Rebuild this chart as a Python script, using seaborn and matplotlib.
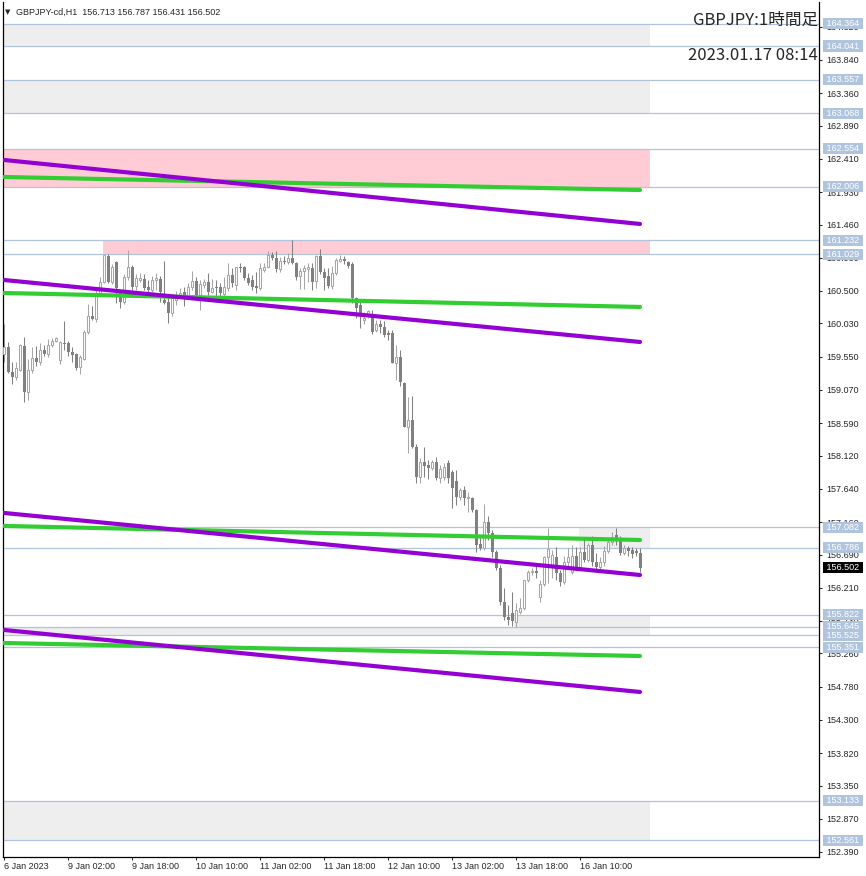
import numpy as np
import pandas as pd
import matplotlib.pyplot as plt
import matplotlib.transforms as mtransforms
import seaborn as sns

# GBPJPY hourly candles, 6 Jan 2023 10:00 .. 17 Jan 2023 01:00 (server time)
open_ = [
    159.59, 159.69, 159.33, 159.26, 159.36, 159.71, 159.04, 159.36, 159.53, 159.47,
    159.65, 159.59, 159.72, 159.78, 159.50, 159.75, 159.75, 159.62, 159.59, 159.40,
    159.52, 159.91, 160.14, 160.10, 160.44, 160.63, 161.01, 160.63, 160.92, 160.49,
    160.34, 160.70, 160.85, 160.57, 160.66, 160.67, 160.56, 160.51, 160.66, 160.67,
    160.37, 160.34, 160.18, 160.37, 160.43, 160.49, 160.41, 160.56, 160.65, 160.44,
    160.59, 160.63, 160.49, 160.56, 160.56, 160.46, 160.54, 160.73, 160.59, 160.85,
    160.85, 160.69, 160.66, 160.57, 160.54, 160.80, 160.85, 161.02, 160.98, 160.82,
    160.93, 160.92, 160.98, 160.91, 160.72, 160.79, 160.82, 160.83, 160.65, 161.01,
    160.78, 160.72, 160.57, 160.76, 160.93, 160.96, 160.92, 160.89, 160.40, 160.30,
    160.08, 160.15, 160.15, 159.94, 160.02, 159.98, 159.89, 159.89, 159.46, 159.55,
    159.17, 158.53, 158.64, 158.24, 157.81, 158.03, 157.98, 157.94, 158.03, 157.80,
    157.81, 158.01, 157.88, 157.75, 157.52, 157.62, 157.51, 157.51, 157.33, 156.84,
    156.78, 157.16, 157.00, 156.73, 156.50, 156.00, 155.79, 155.85, 155.72, 155.86,
    155.92, 156.32, 156.44, 156.45, 156.08, 156.26, 156.65, 156.54, 156.65, 156.42,
    156.29, 156.58, 156.44, 156.67, 156.51, 156.73, 156.61, 156.83, 156.58, 156.51,
    156.58, 156.74, 156.87, 156.97, 156.90, 156.71, 156.78, 156.76, 156.74, 156.713,
]
high = [
    160.02, 159.76, 159.47, 159.47, 159.73, 159.84, 159.52, 159.69, 159.71, 159.75,
    159.72, 159.81, 159.82, 159.84, 159.78, 160.07, 159.78, 159.69, 159.60, 159.58,
    159.94, 160.31, 160.28, 160.56, 160.70, 161.02, 161.03, 160.89, 160.93, 160.51,
    160.75, 161.09, 160.88, 160.75, 160.76, 160.75, 160.66, 160.72, 160.76, 160.72,
    160.93, 160.41, 160.46, 160.50, 160.54, 160.56, 160.62, 160.79, 160.70, 160.66,
    160.67, 160.76, 160.67, 160.66, 160.62, 160.70, 160.91, 160.83, 160.85, 160.91,
    160.86, 160.76, 160.73, 160.78, 160.91, 160.91, 161.08, 161.06, 161.08, 160.99,
    161.01, 161.05, 161.23, 160.92, 160.83, 160.88, 160.91, 160.91, 161.02, 161.11,
    160.83, 160.83, 160.86, 160.98, 161.02, 161.01, 160.93, 160.92, 160.41, 160.37,
    160.20, 160.23, 160.23, 160.08, 160.08, 160.07, 159.94, 159.94, 159.72, 159.65,
    159.18, 158.97, 158.98, 158.29, 158.09, 158.24, 158.06, 158.06, 158.10, 157.98,
    158.01, 158.06, 157.91, 157.91, 157.65, 157.68, 157.59, 157.52, 157.35, 156.96,
    157.42, 157.25, 157.05, 156.76, 156.54, 156.21, 155.96, 156.15, 155.99, 156.06,
    156.32, 156.47, 156.50, 156.54, 156.32, 156.67, 157.07, 156.76, 156.80, 156.47,
    156.67, 156.79, 156.83, 156.80, 156.80, 156.93, 156.86, 156.96, 156.71, 156.65,
    156.81, 156.90, 157.02, 157.08, 156.96, 156.83, 156.81, 156.80, 156.78, 156.787,
]
low = [
    159.47, 159.32, 159.16, 159.21, 159.34, 158.90, 158.92, 159.32, 159.42, 159.43,
    159.56, 159.55, 159.69, 159.76, 159.45, 159.65, 159.56, 159.47, 159.36, 159.30,
    159.50, 159.88, 160.08, 160.05, 160.43, 160.62, 160.62, 160.60, 160.33, 160.25,
    160.31, 160.66, 160.51, 160.51, 160.63, 160.51, 160.49, 160.49, 160.51, 160.34,
    160.31, 160.04, 160.14, 160.30, 160.40, 160.28, 160.38, 160.51, 160.37, 160.23,
    160.54, 160.44, 160.47, 160.37, 160.41, 160.43, 160.50, 160.56, 160.51, 160.78,
    160.66, 160.59, 160.51, 160.47, 160.51, 160.78, 160.83, 160.95, 160.78, 160.78,
    160.89, 160.89, 160.89, 160.66, 160.53, 160.53, 160.63, 160.51, 160.54, 160.75,
    160.51, 160.54, 160.53, 160.73, 160.92, 160.89, 160.83, 160.33, 160.11, 159.97,
    160.02, 160.11, 159.88, 159.91, 159.89, 159.84, 159.79, 159.46, 159.21, 159.13,
    158.53, 158.16, 158.23, 157.72, 157.72, 157.81, 157.78, 157.91, 157.77, 157.72,
    157.77, 157.72, 157.36, 157.41, 157.48, 157.41, 157.31, 157.31, 156.73, 156.76,
    156.76, 156.90, 156.65, 156.47, 155.96, 155.74, 155.67, 155.66, 155.645, 155.83,
    155.89, 156.29, 156.40, 156.35, 156.00, 156.24, 156.28, 156.35, 156.32, 156.24,
    156.26, 156.52, 156.41, 156.47, 156.47, 156.58, 156.58, 156.52, 156.47, 156.47,
    156.52, 156.71, 156.83, 156.83, 156.68, 156.68, 156.67, 156.64, 156.67, 156.431,
]
close = [
    159.69, 159.33, 159.26, 159.39, 159.72, 159.04, 159.36, 159.53, 159.47, 159.65,
    159.59, 159.72, 159.78, 159.82, 159.76, 159.73, 159.62, 159.58, 159.39, 159.55,
    159.91, 160.14, 160.10, 160.44, 160.63, 161.02, 160.63, 160.85, 160.54, 160.34,
    160.70, 160.85, 160.56, 160.69, 160.69, 160.54, 160.51, 160.66, 160.69, 160.49,
    160.33, 160.18, 160.40, 160.44, 160.47, 160.41, 160.56, 160.65, 160.44, 160.60,
    160.63, 160.49, 160.54, 160.54, 160.47, 160.56, 160.73, 160.62, 160.85, 160.83,
    160.69, 160.62, 160.56, 160.54, 160.83, 160.85, 161.02, 160.98, 160.82, 160.93,
    160.92, 160.98, 160.91, 160.70, 160.79, 160.83, 160.85, 160.63, 161.01, 160.78,
    160.69, 160.57, 160.76, 160.95, 160.96, 160.93, 160.86, 160.40, 160.25, 160.15,
    160.11, 160.21, 159.91, 160.02, 159.98, 159.86, 159.86, 159.46, 159.55, 159.18,
    158.53, 158.64, 158.24, 157.81, 158.03, 157.97, 157.94, 158.03, 157.80, 157.93,
    157.96, 157.80, 157.65, 157.52, 157.62, 157.51, 157.52, 157.33, 156.83, 156.78,
    157.16, 157.00, 156.73, 156.50, 156.00, 155.79, 155.74, 155.73, 155.89, 155.92,
    156.32, 156.44, 156.45, 156.42, 156.26, 156.65, 156.77, 156.68, 156.42, 156.29,
    156.58, 156.65, 156.67, 156.51, 156.73, 156.61, 156.83, 156.58, 156.51, 156.58,
    156.74, 156.87, 156.94, 156.90, 156.71, 156.78, 156.74, 156.70, 156.71, 156.502,
]

time_pos = [0, 16, 32, 48, 64, 80, 96, 112, 128, 144]
time_labels = ['6 Jan 2023', '9 Jan 02:00', '9 Jan 18:00', '10 Jan 10:00', '11 Jan 02:00',
               '11 Jan 18:00', '12 Jan 10:00', '13 Jan 02:00', '13 Jan 18:00', '16 Jan 10:00']

price_ticks = [164.320, 163.840, 163.360, 162.890, 162.410, 161.930, 161.460, 160.980,
               160.500, 160.030, 159.550, 159.070, 158.590, 158.120, 157.640, 157.160,
               156.690, 156.210, 155.730, 155.260, 154.780, 154.300, 153.820, 153.350,
               152.870, 152.390]

# horizontal levels
levels = [164.364, 164.041, 163.557, 163.068, 162.554, 162.006, 161.232, 161.029,
          157.082, 156.786, 155.822, 155.645, 155.525, 155.351, 153.133, 152.561]

# zones (top, bottom, first candle, kind)
zone_top = [164.364, 163.557, 162.554, 161.232, 157.082, 155.822, 155.645, 153.133]
zone_bottom = [164.041, 163.068, 162.006, 161.029, 156.786, 155.645, 155.525, 152.561]
zone_start = [-1, -1, -1, 24.75, 143.75, 127.5, -1, -1]
zone_kind = ['gray', 'gray', 'pink', 'pink', 'gray', 'gray', 'gray', 'gray']

# channel lines: price at first and last candle
purple_start = [162.394, 160.659, 157.291, 155.599]
purple_end = [161.469, 159.763, 156.394, 154.703]
green_start = [162.148, 160.471, 157.103, 155.411]
green_end = [161.960, 160.269, 156.900, 155.223]

header = 'GBPJPY-cd,H1  156.713 156.787 156.431 156.502'

df = pd.DataFrame({'open': open_, 'high': high, 'low': low, 'close': close})
df['idx'] = np.arange(len(df))
df['up'] = df['close'] >= df['open']
n = len(df)

sns.set_style('white')
plt.rcParams['font.family'] = ['Liberation Sans', 'Noto Sans CJK JP', 'DejaVu Sans']

W, H = 866, 876
fig = plt.figure(figsize=(W / 100, H / 100), dpi=100)
ax = fig.add_axes([3 / W, 19 / H, 816 / W, 855 / H])

zone_color = {'gray': '#EEEEEE', 'pink': '#FFCCD5'}
zone_end = n + 1.5
for top, bot, start, kind in zip(zone_top, zone_bottom, zone_start, zone_kind):
    ax.fill_between([start, zone_end], bot, top, color=zone_color[kind], lw=0, zorder=0)

for lv in levels:
    ax.axhline(lv, color='#B0C4DE', lw=0.9, zorder=1)

# candles
colors = np.where(df['up'], '#A6A6A6', '#808080')
ax.vlines(df['idx'], df['low'], df['high'], colors=colors, lw=0.75, zorder=2)
up = df[df['up']]
dn = df[~df['up']]
ax.bar(up['idx'], up['close'] - up['open'], bottom=up['open'], width=0.5,
       facecolor='white', edgecolor='#A6A6A6', lw=0.75, zorder=3)
ax.bar(dn['idx'], dn['open'] - dn['close'], bottom=dn['close'], width=0.75,
       color='#808080', lw=0, zorder=3)

# channels
for k in range(len(purple_start)):
    sns.lineplot(x=[0, n - 1], y=[green_start[k], green_end[k]], color='#32CD32',
                 lw=3, ax=ax, zorder=4)
    sns.lineplot(x=[0, n - 1], y=[purple_start[k], purple_end[k]], color='#9400D3',
                 lw=3, ax=ax, zorder=4)

ax.set_xlim(-0.25, 203.75)
ax.set_ylim(152.317, 164.678)

ax.yaxis.tick_right()
ax.set_yticks(price_ticks)
ax.set_yticklabels([f'{t:.3f}' for t in price_ticks])
ax.set_xticks(time_pos)
ax.set_xticklabels(time_labels, ha='left')
ax.tick_params(axis='y', direction='out', length=2.2, width=0.75, pad=3,
               labelsize=6.5, right=True, left=False)
ax.tick_params(axis='x', direction='out', length=2.2, width=0.75, pad=1.5,
               labelsize=6.5, bottom=True)
ax.set_xlabel('')
ax.set_ylabel('')
for side in ['left', 'right', 'bottom']:
    ax.spines[side].set_color('black')
    ax.spines[side].set_linewidth(0.9)
ax.spines['top'].set_visible(False)

trans = mtransforms.blended_transform_factory(ax.transAxes, ax.transData)
lab_x = (843 - 3) / 816
for lv in levels:
    ax.text(lab_x, lv, f' {lv:.3f} ', transform=trans, ha='center', va='center',
            color='white', fontsize=6.5, clip_on=False, zorder=6,
            bbox=dict(boxstyle='square,pad=0.12', fc='#B0C4DE', ec='none'))
ax.text(lab_x, close[-1], f' {close[-1]:.3f} ', transform=trans, ha='center',
        va='center', color='white', fontsize=6.5, clip_on=False, zorder=7,
        bbox=dict(boxstyle='square,pad=0.12', fc='black', ec='none'))

fig.text(8 / W, 1 - 12 / H, '▼', fontsize=5, va='center', ha='center',
         family=['DejaVu Sans'])
fig.text(16 / W, 1 - 12 / H, header, fontsize=6.5, va='center', ha='left')
fig.text(818 / W, 1 - 20 / H, 'GBPJPY:1時間足', fontsize=12, va='center', ha='right',
         family=['Noto Sans CJK JP'])
fig.text(818 / W, 1 - 55 / H, '2023.01.17 08:14', fontsize=12, va='center', ha='right',
         family=['Noto Sans CJK JP'])

fig.savefig('out.png', dpi=100)
